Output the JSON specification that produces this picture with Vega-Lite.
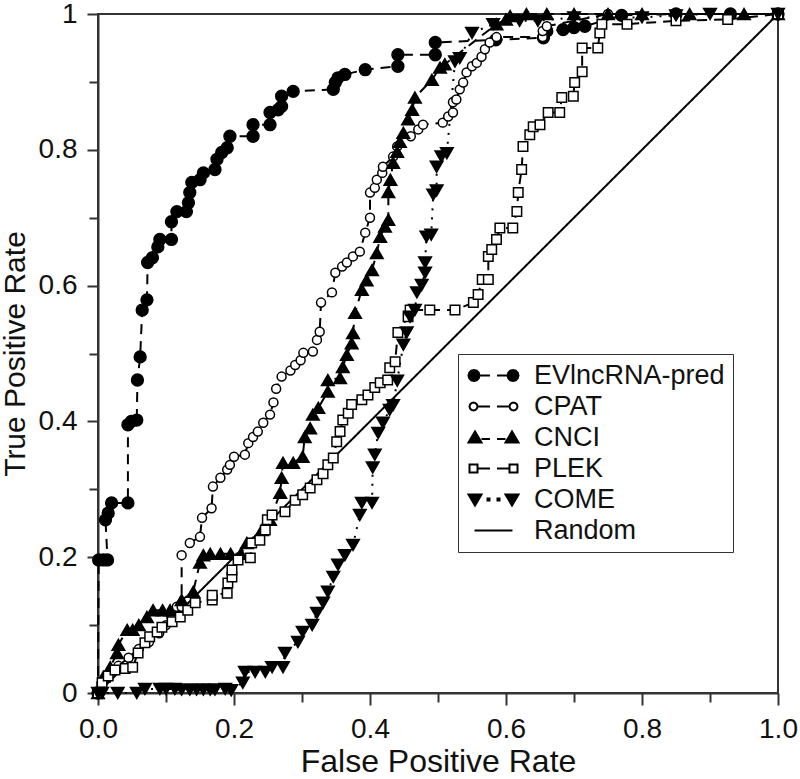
{
  "$schema": "https://vega.github.io/schema/vega-lite/v6.json",
  "width": 680,
  "height": 679,
  "autosize": "none",
  "padding": {"left": 98, "top": 14, "right": 22, "bottom": 86},
  "background": "white",
  "config": {
    "view": {"stroke": "#333", "strokeWidth": 2},
    "axis": {"domainColor": "#333", "domainWidth": 2, "tickColor": "#333", "tickWidth": 2, "labelFont": "Liberation Sans", "labelFontSize": 28, "labelColor": "#111", "titleFont": "Liberation Sans", "titleFontWeight": "normal", "titleColor": "#111", "grid": false, "labelOverlap": false, "labelFlush": false, "labelBound": false}
  },
  "datasets": {
    "roc": [
      {"m":"EVlncRNA-pred","x":0,"y":0},{"m":"EVlncRNA-pred","x":0.001,"y":0.196},{"m":"EVlncRNA-pred","x":0.008,"y":0.196},{"m":"EVlncRNA-pred","x":0.014,"y":0.196},{"m":"EVlncRNA-pred","x":0.011,"y":0.255},{"m":"EVlncRNA-pred","x":0.015,"y":0.265},{"m":"EVlncRNA-pred","x":0.02,"y":0.28},{"m":"EVlncRNA-pred","x":0.044,"y":0.28},{"m":"EVlncRNA-pred","x":0.044,"y":0.395},{"m":"EVlncRNA-pred","x":0.049,"y":0.4},{"m":"EVlncRNA-pred","x":0.057,"y":0.402},{"m":"EVlncRNA-pred","x":0.058,"y":0.461},{"m":"EVlncRNA-pred","x":0.062,"y":0.495},{"m":"EVlncRNA-pred","x":0.065,"y":0.564},{"m":"EVlncRNA-pred","x":0.072,"y":0.579},{"m":"EVlncRNA-pred","x":0.073,"y":0.634},{"m":"EVlncRNA-pred","x":0.08,"y":0.641},{"m":"EVlncRNA-pred","x":0.088,"y":0.657},{"m":"EVlncRNA-pred","x":0.091,"y":0.668},{"m":"EVlncRNA-pred","x":0.108,"y":0.668},{"m":"EVlncRNA-pred","x":0.108,"y":0.694},{"m":"EVlncRNA-pred","x":0.116,"y":0.709},{"m":"EVlncRNA-pred","x":0.13,"y":0.709},{"m":"EVlncRNA-pred","x":0.133,"y":0.722},{"m":"EVlncRNA-pred","x":0.135,"y":0.737},{"m":"EVlncRNA-pred","x":0.138,"y":0.752},{"m":"EVlncRNA-pred","x":0.15,"y":0.756},{"m":"EVlncRNA-pred","x":0.155,"y":0.766},{"m":"EVlncRNA-pred","x":0.172,"y":0.771},{"m":"EVlncRNA-pred","x":0.175,"y":0.786},{"m":"EVlncRNA-pred","x":0.182,"y":0.796},{"m":"EVlncRNA-pred","x":0.19,"y":0.803},{"m":"EVlncRNA-pred","x":0.194,"y":0.82},{"m":"EVlncRNA-pred","x":0.228,"y":0.82},{"m":"EVlncRNA-pred","x":0.228,"y":0.837},{"m":"EVlncRNA-pred","x":0.253,"y":0.837},{"m":"EVlncRNA-pred","x":0.253,"y":0.855},{"m":"EVlncRNA-pred","x":0.265,"y":0.859},{"m":"EVlncRNA-pred","x":0.27,"y":0.864},{"m":"EVlncRNA-pred","x":0.27,"y":0.879},{"m":"EVlncRNA-pred","x":0.287,"y":0.886},{"m":"EVlncRNA-pred","x":0.346,"y":0.889},{"m":"EVlncRNA-pred","x":0.349,"y":0.899},{"m":"EVlncRNA-pred","x":0.353,"y":0.906},{"m":"EVlncRNA-pred","x":0.363,"y":0.911},{"m":"EVlncRNA-pred","x":0.393,"y":0.918},{"m":"EVlncRNA-pred","x":0.441,"y":0.923},{"m":"EVlncRNA-pred","x":0.441,"y":0.94},{"m":"EVlncRNA-pred","x":0.496,"y":0.94},{"m":"EVlncRNA-pred","x":0.496,"y":0.958},{"m":"EVlncRNA-pred","x":0.585,"y":0.962},{"m":"EVlncRNA-pred","x":0.655,"y":0.965},{"m":"EVlncRNA-pred","x":0.66,"y":0.975},{"m":"EVlncRNA-pred","x":0.684,"y":0.977},{"m":"EVlncRNA-pred","x":0.7,"y":0.98},{"m":"EVlncRNA-pred","x":0.716,"y":0.982},{"m":"EVlncRNA-pred","x":0.77,"y":0.998},{"m":"EVlncRNA-pred","x":0.85,"y":1},{"m":"EVlncRNA-pred","x":0.93,"y":1},{"m":"EVlncRNA-pred","x":1,"y":1},

      {"m":"CPAT","x":0,"y":0},{"m":"CPAT","x":0.005,"y":0.012},{"m":"CPAT","x":0.015,"y":0.025},{"m":"CPAT","x":0.03,"y":0.04},{"m":"CPAT","x":0.045,"y":0.052},{"m":"CPAT","x":0.06,"y":0.065},{"m":"CPAT","x":0.075,"y":0.075},{"m":"CPAT","x":0.09,"y":0.088},{"m":"CPAT","x":0.1,"y":0.1},{"m":"CPAT","x":0.108,"y":0.112},{"m":"CPAT","x":0.116,"y":0.127},{"m":"CPAT","x":0.123,"y":0.127},{"m":"CPAT","x":0.123,"y":0.203},{"m":"CPAT","x":0.135,"y":0.221},{"m":"CPAT","x":0.15,"y":0.23},{"m":"CPAT","x":0.153,"y":0.258},{"m":"CPAT","x":0.167,"y":0.272},{"m":"CPAT","x":0.169,"y":0.304},{"m":"CPAT","x":0.18,"y":0.317},{"m":"CPAT","x":0.19,"y":0.329},{"m":"CPAT","x":0.194,"y":0.336},{"m":"CPAT","x":0.2,"y":0.348},{"m":"CPAT","x":0.216,"y":0.351},{"m":"CPAT","x":0.221,"y":0.368},{"m":"CPAT","x":0.228,"y":0.377},{"m":"CPAT","x":0.235,"y":0.385},{"m":"CPAT","x":0.243,"y":0.398},{"m":"CPAT","x":0.253,"y":0.41},{"m":"CPAT","x":0.258,"y":0.428},{"m":"CPAT","x":0.262,"y":0.448},{"m":"CPAT","x":0.27,"y":0.466},{"m":"CPAT","x":0.283,"y":0.475},{"m":"CPAT","x":0.29,"y":0.483},{"m":"CPAT","x":0.298,"y":0.49},{"m":"CPAT","x":0.302,"y":0.501},{"m":"CPAT","x":0.316,"y":0.503},{"m":"CPAT","x":0.322,"y":0.52},{"m":"CPAT","x":0.326,"y":0.532},{"m":"CPAT","x":0.328,"y":0.575},{"m":"CPAT","x":0.344,"y":0.59},{"m":"CPAT","x":0.349,"y":0.619},{"m":"CPAT","x":0.359,"y":0.628},{"m":"CPAT","x":0.366,"y":0.634},{"m":"CPAT","x":0.375,"y":0.643},{"m":"CPAT","x":0.385,"y":0.65},{"m":"CPAT","x":0.393,"y":0.678},{"m":"CPAT","x":0.4,"y":0.7},{"m":"CPAT","x":0.4,"y":0.737},{"m":"CPAT","x":0.407,"y":0.744},{"m":"CPAT","x":0.41,"y":0.756},{"m":"CPAT","x":0.418,"y":0.766},{"m":"CPAT","x":0.419,"y":0.775},{"m":"CPAT","x":0.434,"y":0.79},{"m":"CPAT","x":0.44,"y":0.805},{"m":"CPAT","x":0.46,"y":0.82},{"m":"CPAT","x":0.471,"y":0.83},{"m":"CPAT","x":0.478,"y":0.837},{"m":"CPAT","x":0.507,"y":0.84},{"m":"CPAT","x":0.515,"y":0.849},{"m":"CPAT","x":0.522,"y":0.855},{"m":"CPAT","x":0.522,"y":0.87},{"m":"CPAT","x":0.527,"y":0.874},{"m":"CPAT","x":0.532,"y":0.889},{"m":"CPAT","x":0.537,"y":0.899},{"m":"CPAT","x":0.542,"y":0.914},{"m":"CPAT","x":0.55,"y":0.923},{"m":"CPAT","x":0.557,"y":0.928},{"m":"CPAT","x":0.564,"y":0.937},{"m":"CPAT","x":0.569,"y":0.948},{"m":"CPAT","x":0.576,"y":0.958},{"m":"CPAT","x":0.586,"y":0.966},{"m":"CPAT","x":0.654,"y":0.966},{"m":"CPAT","x":0.654,"y":0.975},{"m":"CPAT","x":0.66,"y":0.982},{"m":"CPAT","x":0.75,"y":1},{"m":"CPAT","x":0.85,"y":1},{"m":"CPAT","x":1,"y":1},

      {"m":"CNCI","x":0,"y":0},{"m":"CNCI","x":0.008,"y":0.024},{"m":"CNCI","x":0.018,"y":0.038},{"m":"CNCI","x":0.028,"y":0.059},{"m":"CNCI","x":0.03,"y":0.071},{"m":"CNCI","x":0.043,"y":0.093},{"m":"CNCI","x":0.051,"y":0.093},{"m":"CNCI","x":0.06,"y":0.1},{"m":"CNCI","x":0.072,"y":0.112},{"m":"CNCI","x":0.081,"y":0.122},{"m":"CNCI","x":0.095,"y":0.122},{"m":"CNCI","x":0.106,"y":0.122},{"m":"CNCI","x":0.123,"y":0.137},{"m":"CNCI","x":0.14,"y":0.149},{"m":"CNCI","x":0.15,"y":0.192},{"m":"CNCI","x":0.155,"y":0.203},{"m":"CNCI","x":0.165,"y":0.205},{"m":"CNCI","x":0.18,"y":0.205},{"m":"CNCI","x":0.195,"y":0.205},{"m":"CNCI","x":0.21,"y":0.205},{"m":"CNCI","x":0.219,"y":0.221},{"m":"CNCI","x":0.241,"y":0.24},{"m":"CNCI","x":0.253,"y":0.255},{"m":"CNCI","x":0.268,"y":0.295},{"m":"CNCI","x":0.27,"y":0.317},{"m":"CNCI","x":0.272,"y":0.339},{"m":"CNCI","x":0.287,"y":0.339},{"m":"CNCI","x":0.301,"y":0.348},{"m":"CNCI","x":0.304,"y":0.377},{"m":"CNCI","x":0.312,"y":0.39},{"m":"CNCI","x":0.316,"y":0.41},{"m":"CNCI","x":0.324,"y":0.42},{"m":"CNCI","x":0.338,"y":0.444},{"m":"CNCI","x":0.338,"y":0.461},{"m":"CNCI","x":0.356,"y":0.464},{"m":"CNCI","x":0.36,"y":0.48},{"m":"CNCI","x":0.366,"y":0.498},{"m":"CNCI","x":0.373,"y":0.515},{"m":"CNCI","x":0.375,"y":0.53},{"m":"CNCI","x":0.378,"y":0.56},{"m":"CNCI","x":0.388,"y":0.594},{"m":"CNCI","x":0.395,"y":0.608},{"m":"CNCI","x":0.403,"y":0.623},{"m":"CNCI","x":0.41,"y":0.648},{"m":"CNCI","x":0.415,"y":0.672},{"m":"CNCI","x":0.422,"y":0.687},{"m":"CNCI","x":0.427,"y":0.697},{"m":"CNCI","x":0.427,"y":0.738},{"m":"CNCI","x":0.43,"y":0.756},{"m":"CNCI","x":0.434,"y":0.781},{"m":"CNCI","x":0.44,"y":0.797},{"m":"CNCI","x":0.444,"y":0.812},{"m":"CNCI","x":0.449,"y":0.825},{"m":"CNCI","x":0.456,"y":0.845},{"m":"CNCI","x":0.462,"y":0.859},{"m":"CNCI","x":0.466,"y":0.877},{"m":"CNCI","x":0.491,"y":0.903},{"m":"CNCI","x":0.503,"y":0.921},{"m":"CNCI","x":0.51,"y":0.926},{"m":"CNCI","x":0.586,"y":0.985},{"m":"CNCI","x":0.6,"y":0.992},{"m":"CNCI","x":0.606,"y":0.997},{"m":"CNCI","x":0.63,"y":1},{"m":"CNCI","x":0.66,"y":1},{"m":"CNCI","x":0.7,"y":1},{"m":"CNCI","x":0.75,"y":1},{"m":"CNCI","x":0.8,"y":1},{"m":"CNCI","x":0.87,"y":1},{"m":"CNCI","x":0.95,"y":1},{"m":"CNCI","x":1,"y":1},

      {"m":"PLEK","x":0,"y":0},{"m":"PLEK","x":0.006,"y":0.015},{"m":"PLEK","x":0.015,"y":0.025},{"m":"PLEK","x":0.025,"y":0.034},{"m":"PLEK","x":0.04,"y":0.036},{"m":"PLEK","x":0.051,"y":0.038},{"m":"PLEK","x":0.059,"y":0.059},{"m":"PLEK","x":0.069,"y":0.074},{"m":"PLEK","x":0.076,"y":0.083},{"m":"PLEK","x":0.087,"y":0.09},{"m":"PLEK","x":0.094,"y":0.097},{"m":"PLEK","x":0.109,"y":0.105},{"m":"PLEK","x":0.121,"y":0.112},{"m":"PLEK","x":0.132,"y":0.122},{"m":"PLEK","x":0.143,"y":0.133},{"m":"PLEK","x":0.168,"y":0.137},{"m":"PLEK","x":0.168,"y":0.144},{"m":"PLEK","x":0.19,"y":0.147},{"m":"PLEK","x":0.191,"y":0.162},{"m":"PLEK","x":0.197,"y":0.171},{"m":"PLEK","x":0.197,"y":0.181},{"m":"PLEK","x":0.206,"y":0.196},{"m":"PLEK","x":0.224,"y":0.199},{"m":"PLEK","x":0.226,"y":0.221},{"m":"PLEK","x":0.238,"y":0.225},{"m":"PLEK","x":0.246,"y":0.24},{"m":"PLEK","x":0.249,"y":0.255},{"m":"PLEK","x":0.256,"y":0.262},{"m":"PLEK","x":0.275,"y":0.267},{"m":"PLEK","x":0.29,"y":0.284},{"m":"PLEK","x":0.301,"y":0.292},{"m":"PLEK","x":0.312,"y":0.302},{"m":"PLEK","x":0.322,"y":0.314},{"m":"PLEK","x":0.331,"y":0.323},{"m":"PLEK","x":0.338,"y":0.336},{"m":"PLEK","x":0.346,"y":0.346},{"m":"PLEK","x":0.351,"y":0.37},{"m":"PLEK","x":0.356,"y":0.385},{"m":"PLEK","x":0.36,"y":0.402},{"m":"PLEK","x":0.368,"y":0.412},{"m":"PLEK","x":0.373,"y":0.425},{"m":"PLEK","x":0.388,"y":0.432},{"m":"PLEK","x":0.397,"y":0.439},{"m":"PLEK","x":0.407,"y":0.45},{"m":"PLEK","x":0.415,"y":0.457},{"m":"PLEK","x":0.426,"y":0.461},{"m":"PLEK","x":0.429,"y":0.479},{"m":"PLEK","x":0.437,"y":0.488},{"m":"PLEK","x":0.441,"y":0.531},{"m":"PLEK","x":0.456,"y":0.554},{"m":"PLEK","x":0.459,"y":0.564},{"m":"PLEK","x":0.488,"y":0.564},{"m":"PLEK","x":0.525,"y":0.564},{"m":"PLEK","x":0.552,"y":0.575},{"m":"PLEK","x":0.559,"y":0.587},{"m":"PLEK","x":0.565,"y":0.609},{"m":"PLEK","x":0.574,"y":0.609},{"m":"PLEK","x":0.574,"y":0.643},{"m":"PLEK","x":0.579,"y":0.653},{"m":"PLEK","x":0.586,"y":0.668},{"m":"PLEK","x":0.591,"y":0.685},{"m":"PLEK","x":0.61,"y":0.685},{"m":"PLEK","x":0.616,"y":0.709},{"m":"PLEK","x":0.618,"y":0.737},{"m":"PLEK","x":0.623,"y":0.771},{"m":"PLEK","x":0.625,"y":0.805},{"m":"PLEK","x":0.635,"y":0.822},{"m":"PLEK","x":0.64,"y":0.834},{"m":"PLEK","x":0.65,"y":0.837},{"m":"PLEK","x":0.662,"y":0.855},{"m":"PLEK","x":0.679,"y":0.855},{"m":"PLEK","x":0.682,"y":0.877},{"m":"PLEK","x":0.699,"y":0.879},{"m":"PLEK","x":0.701,"y":0.899},{"m":"PLEK","x":0.712,"y":0.915},{"m":"PLEK","x":0.712,"y":0.95},{"m":"PLEK","x":0.735,"y":0.95},{"m":"PLEK","x":0.738,"y":0.972},{"m":"PLEK","x":0.741,"y":0.985},{"m":"PLEK","x":0.778,"y":0.985},{"m":"PLEK","x":0.85,"y":0.99},{"m":"PLEK","x":0.926,"y":0.992},{"m":"PLEK","x":1,"y":1},

      {"m":"COME","x":0,"y":0},{"m":"COME","x":0.006,"y":0},{"m":"COME","x":0.029,"y":0},{"m":"COME","x":0.057,"y":0},{"m":"COME","x":0.069,"y":0.006},{"m":"COME","x":0.091,"y":0.006},{"m":"COME","x":0.1,"y":0.006},{"m":"COME","x":0.113,"y":0.006},{"m":"COME","x":0.123,"y":0.005},{"m":"COME","x":0.135,"y":0.005},{"m":"COME","x":0.145,"y":0.005},{"m":"COME","x":0.155,"y":0.005},{"m":"COME","x":0.165,"y":0.005},{"m":"COME","x":0.172,"y":0.005},{"m":"COME","x":0.187,"y":0.006},{"m":"COME","x":0.196,"y":0.004},{"m":"COME","x":0.213,"y":0.015},{"m":"COME","x":0.216,"y":0.031},{"m":"COME","x":0.231,"y":0.031},{"m":"COME","x":0.246,"y":0.031},{"m":"COME","x":0.256,"y":0.038},{"m":"COME","x":0.272,"y":0.038},{"m":"COME","x":0.275,"y":0.059},{"m":"COME","x":0.294,"y":0.075},{"m":"COME","x":0.301,"y":0.09},{"m":"COME","x":0.315,"y":0.1},{"m":"COME","x":0.322,"y":0.118},{"m":"COME","x":0.331,"y":0.133},{"m":"COME","x":0.338,"y":0.149},{"m":"COME","x":0.346,"y":0.171},{"m":"COME","x":0.353,"y":0.189},{"m":"COME","x":0.363,"y":0.203},{"m":"COME","x":0.375,"y":0.218},{"m":"COME","x":0.385,"y":0.262},{"m":"COME","x":0.388,"y":0.28},{"m":"COME","x":0.403,"y":0.28},{"m":"COME","x":0.404,"y":0.332},{"m":"COME","x":0.407,"y":0.351},{"m":"COME","x":0.412,"y":0.383},{"m":"COME","x":0.419,"y":0.398},{"m":"COME","x":0.429,"y":0.417},{"m":"COME","x":0.434,"y":0.424},{"m":"COME","x":0.44,"y":0.46},{"m":"COME","x":0.449,"y":0.513},{"m":"COME","x":0.454,"y":0.531},{"m":"COME","x":0.459,"y":0.554},{"m":"COME","x":0.466,"y":0.564},{"m":"COME","x":0.469,"y":0.59},{"m":"COME","x":0.476,"y":0.601},{"m":"COME","x":0.481,"y":0.619},{"m":"COME","x":0.481,"y":0.634},{"m":"COME","x":0.483,"y":0.672},{"m":"COME","x":0.49,"y":0.675},{"m":"COME","x":0.493,"y":0.734},{"m":"COME","x":0.498,"y":0.74},{"m":"COME","x":0.498,"y":0.775},{"m":"COME","x":0.505,"y":0.79},{"m":"COME","x":0.513,"y":0.795},{"m":"COME","x":0.525,"y":0.93},{"m":"COME","x":0.532,"y":0.935},{"m":"COME","x":0.55,"y":0.972},{"m":"COME","x":0.581,"y":0.985},{"m":"COME","x":0.62,"y":0.99},{"m":"COME","x":0.647,"y":0.99},{"m":"COME","x":0.7,"y":0.995},{"m":"COME","x":0.8,"y":0.995},{"m":"COME","x":0.85,"y":0.998},{"m":"COME","x":0.9,"y":1},{"m":"COME","x":1,"y":1},

      {"m":"Random","x":0,"y":0},{"m":"Random","x":1,"y":1}
    ]
  },
  "data": {"name": "roc"},
  "encoding": {
    "x": {"field": "x", "type": "quantitative", "scale": {"domain": [0, 1], "nice": false, "zero": false},
      "axis": {"title": "False Positive Rate", "titleFontSize": 32, "titlePadding": 3, "values": [0,0.1,0.2,0.3,0.4,0.5,0.6,0.7,0.8,0.9,1], "labelExpr": "round(datum.value*10)%2==0 ? format(datum.value,'.1f') : ''", "tickSize": {"condition": {"test": "round(datum.value*10)%2==0", "value": 12}, "value": 9}, "labelPadding": 10}},
    "y": {"field": "y", "type": "quantitative", "scale": {"domain": [0, 1], "nice": false, "zero": false},
      "axis": {"title": "True Positive Rate", "titleFontSize": 30, "titlePadding": 8, "values": [0,0.1,0.2,0.3,0.4,0.5,0.6,0.7,0.8,0.9,1], "labelExpr": "round(datum.value*10)%2!=0 ? '' : (datum.value==0 ? '0' : (datum.value==1 ? '1' : format(datum.value,'.1f')))", "tickSize": {"condition": {"test": "round(datum.value*10)%2==0", "value": 11}, "value": 9}, "labelPadding": 10}}
  },
  "layer": [
    {
      "mark": {"type": "line", "strokeWidth": 2, "color": "black"},
      "encoding": {
        "strokeDash": {"field": "m", "type": "nominal", "legend": null,
          "scale": {"domain": ["Random","EVlncRNA-pred","CPAT","CNCI","PLEK","COME"], "range": [[1,0],[10,7],[10,7],[10,7],[10,7],[2,7]]}},
        "order": {"value": null}
      }
    },
    {
      "transform": [{"filter": "datum.m != 'Random'"}],
      "mark": {"type": "point", "filled": true, "stroke": "black", "strokeWidth": 1.5, "opacity": 1},
      "encoding": {
        "shape": {"condition": [{"test": "datum.m=='CNCI'", "value": "triangle-up"}, {"test": "datum.m=='PLEK'", "value": "square"}, {"test": "datum.m=='COME'", "value": "triangle-down"}], "value": "circle"},
        "fill": {"condition": {"test": "datum.m=='CPAT' || datum.m=='PLEK'", "value": "white"}, "value": "black"},
        "size": {"condition": [{"test": "datum.m=='CPAT'", "value": 80}, {"test": "datum.m=='PLEK'", "value": 90}, {"test": "datum.m=='EVlncRNA-pred'", "value": 140}], "value": 160}
      }
    },
    {
      "transform": [{"filter": "false"}],
      "mark": {"type": "point", "filled": true, "strokeWidth": 2, "opacity": 1},
      "encoding": {
        "shape": {"field": "m", "type": "nominal",
          "scale": {"domain": ["EVlncRNA-pred","CPAT","CNCI","PLEK","COME","Random"],
            "range": [
              "M-2.8,0L-2.95,0.55L-3.35,0.95L-3.9,1.1L-4.45,0.95L-4.85,0.55L-5,0L-4.85,-0.55L-4.45,-0.95L-3.9,-1.1L-3.35,-0.95L-2.95,-0.55ZM5,0L4.85,0.55L4.45,0.95L3.9,1.1L3.35,0.95L2.95,0.55L2.8,0L2.95,-0.55L3.35,-0.95L3.9,-1.1L4.45,-0.95L4.85,-0.55ZM-2.8,0L-0.7,0M0.7,0L2.8,0",
              "M-3.2,0L-3.31,0.4L-3.6,0.69L-4,0.8L-4.4,0.69L-4.69,0.4L-4.8,0L-4.69,-0.4L-4.4,-0.69L-4,-0.8L-3.6,-0.69L-3.31,-0.4ZM4.8,0L4.69,0.4L4.4,0.69L4,0.8L3.6,0.69L3.31,0.4L3.2,0L3.31,-0.4L3.6,-0.69L4,-0.8L4.4,-0.69L4.69,-0.4ZM-3.2,0L-0.7,0M0.7,0L3.2,0",
              "M-5,1L-3.7,-1.2L-2.4,1ZM2.4,1L3.7,-1.2L5,1ZM-2.4,0.3L-0.7,0.3M0.7,0.3L2.4,0.3",
              "M-4.8,-0.8L-3.2,-0.8L-3.2,0.8L-4.8,0.8ZM3.2,-0.8L4.8,-0.8L4.8,0.8L3.2,0.8ZM-3.2,0L-0.7,0M0.7,0L3.2,0",
              "M-5,-1L-2.4,-1L-3.7,1.2ZM2.4,-1L5,-1L3.7,1.2ZM-1.2,-0.2L-0.8,-0.2L-0.8,0.2L-1.2,0.2ZM0.8,-0.2L1.2,-0.2L1.2,0.2L0.8,0.2Z",
              "M-3.8,0L3.8,0"
            ]},
          "legend": {
            "title": null, "orient": "none", "legendX": 360, "legendY": 340,
            "padding": 8, "rowPadding": 3, "strokeColor": "#333", "fillColor": "white",
            "labelFont": "Liberation Sans", "labelFontSize": 27, "labelColor": "#111", "labelLimit": 400,
            "symbolSize": 100, "symbolStrokeWidth": 2, "symbolOpacity": 1, "symbolOffset": 14, "labelOffset": 27
          }
        },
        "fill": {"field": "m", "type": "nominal",
          "scale": {"domain": ["EVlncRNA-pred","CPAT","CNCI","PLEK","COME","Random"], "range": ["black","white","black","white","black","black"]},
          "legend": {
            "title": null, "orient": "none", "legendX": 360, "legendY": 340,
            "padding": 8, "rowPadding": 3, "strokeColor": "#333", "fillColor": "white",
            "labelFont": "Liberation Sans", "labelFontSize": 27, "labelColor": "#111", "labelLimit": 400,
            "symbolSize": 100, "symbolStrokeWidth": 2, "symbolOpacity": 1, "symbolOffset": 14, "labelOffset": 27
          }
        },
        "stroke": {"field": "m", "type": "nominal",
          "scale": {"domain": ["EVlncRNA-pred","CPAT","CNCI","PLEK","COME","Random"], "range": ["black","black","black","black","black","black"]},
          "legend": {
            "title": null, "orient": "none", "legendX": 360, "legendY": 340,
            "padding": 8, "rowPadding": 3, "strokeColor": "#333", "fillColor": "white",
            "labelFont": "Liberation Sans", "labelFontSize": 27, "labelColor": "#111", "labelLimit": 400,
            "symbolSize": 100, "symbolStrokeWidth": 2, "symbolOpacity": 1, "symbolOffset": 14, "labelOffset": 27
          }
        }
      }
    }
  ]
}
